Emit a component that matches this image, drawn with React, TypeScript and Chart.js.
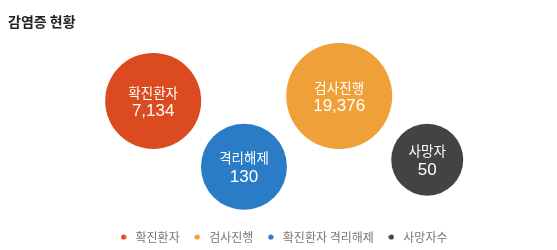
import React, { useEffect, useRef } from "react";
import { Chart, registerables } from "chart.js";

Chart.register(...registerables);

const legendLabels = ["확진환자", "검사진행", "확진환자 격리해제", "사망자수"];
const bubbleNames = ["확진환자", "검사진행", "격리해제", "사망자"];
const values = [7134, 19376, 130, 50];
const xPos = [27.5, 60.9, 43.8, 76.7];
const yPos = [34.5, 31.7, 71.8, 67.8];
const radii = [48, 53, 43, 36];
const colors = ["#DC4A1F", "#F0A038", "#2B7CC6", "#434343"];

function makeDot(color: string) {
  const c = document.createElement("canvas");
  c.width = 6;
  c.height = 6;
  const g = c.getContext("2d")!;
  g.fillStyle = color;
  g.beginPath();
  g.arc(3, 3, 2.6, 0, Math.PI * 2);
  g.fill();
  return c;
}

const labelPlugin = {
  id: "bubbleLabels",
  afterDatasetsDraw(chart: any) {
    const ctx = chart.ctx;
    ctx.save();
    ctx.fillStyle = "#ffffff";
    ctx.textAlign = "center";
    ctx.textBaseline = "middle";
    chart.data.datasets.forEach((ds: any, i: number) => {
      const meta = chart.getDatasetMeta(i);
      const el = meta.data[0];
      if (!el) return;
      const x = el.x;
      const y = el.y;
      ctx.font = "13.5px 'Noto Sans CJK KR', sans-serif";
      ctx.fillText(bubbleNames[i], x, y - 8.5);
      ctx.font = "17px 'Liberation Sans', Arial, sans-serif";
      ctx.fillText(values[i].toLocaleString("en-US"), x, y + 10.5);
    });
    ctx.restore();
  },
};

const legendShift = {
  id: "legendShift",
  afterLayout(chart: any) {
    const lg = chart.legend;
    if (!lg) return;
    lg.left += 4;
    lg.right += 4;
    lg.top += 3;
    lg.bottom += 3;
  },
};

export default function App() {
  const ref = useRef<HTMLCanvasElement>(null);
  useEffect(() => {
    if (!ref.current) return;
    const dots = colors.map(makeDot);
    const chart = new Chart(ref.current, {
      type: "bubble",
      data: {
        datasets: legendLabels.map((lab, i) => ({
          label: lab,
          data: [{ x: xPos[i], y: yPos[i], r: radii[i] }],
          backgroundColor: colors[i],
          borderColor: colors[i],
          borderWidth: 0,
          hoverRadius: 0,
          clip: false as any,
        })),
      },
      options: {
        animation: false,
        responsive: false,
        maintainAspectRatio: false,
        layout: { padding: { top: 40, left: 0, right: 0, bottom: 0 }, autoPadding: false },
        scales: {
          x: { display: false, min: 0, max: 100 },
          y: { display: false, min: 0, max: 100, reverse: true },
        },
        plugins: {
          title: { display: false },
          legend: {
            position: "bottom",
            labels: {
              usePointStyle: true,
              pointStyleWidth: 12,
              boxHeight: 6,
              color: "#777",
              padding: 11.5,
              font: { size: 12, family: "'Noto Sans CJK KR', sans-serif" },
              generateLabels(chart: any) {
                const items = Chart.defaults.plugins.legend.labels.generateLabels(chart);
                return items.map((it: any, i: number) => ({ ...it, pointStyle: dots[i] }));
              },
            } as any,
          },
          tooltip: { enabled: false },
        },
      },
      plugins: [labelPlugin, legendShift],
    });
    return () => chart.destroy();
  }, []);
  return (
    <div style={{ position: "absolute", left: 0, top: 0, width: 557, height: 250, background: "#fff" }}>
      <canvas ref={ref} width={557} height={250} style={{ width: 557, height: 250, display: "block" }} />
      <div
        style={{
          position: "absolute",
          left: 8,
          top: 11,
          fontFamily: "'Noto Sans CJK KR', sans-serif",
          fontWeight: "bold",
          fontSize: 14,
          lineHeight: "20px",
          color: "#222",
        }}
      >
        감염증 현황
      </div>
    </div>
  );
}
